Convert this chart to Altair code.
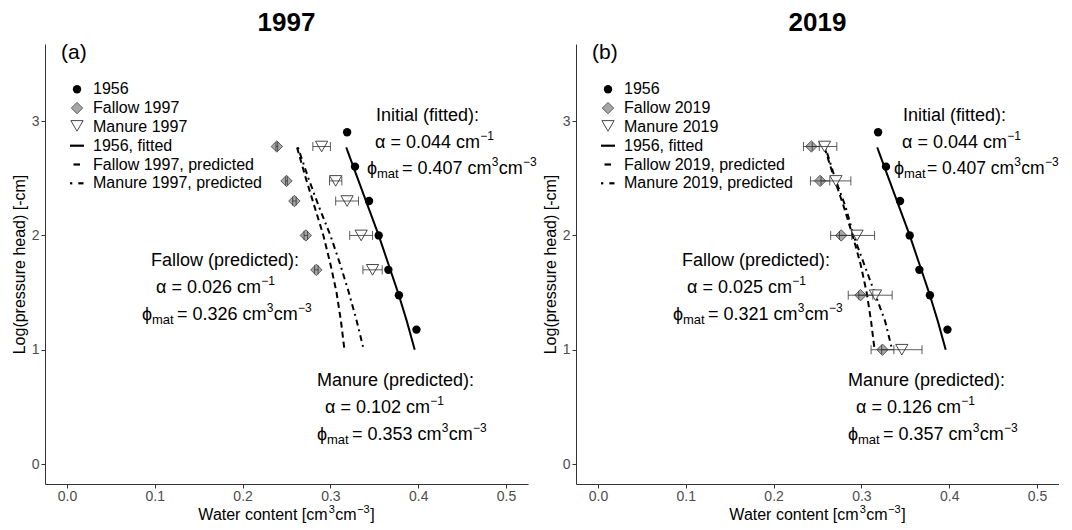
import altair as alt
import pandas as pd

FONT = "Liberation Sans"

# ---------------- data ----------------
h_1956 = [2.903, 2.602, 2.301, 2.0, 1.699, 1.477, 1.176]
theta_1956 = [0.319, 0.328, 0.344, 0.355, 0.366, 0.378, 0.398]

h_1997 = [2.778, 2.477, 2.301, 2.0, 1.699]
theta_fallow_1997 = [0.239, 0.250, 0.259, 0.272, 0.284]
err_fallow_1997 = [0.001, 0.001, 0.002, 0.002, 0.002]
theta_manure_1997 = [0.290, 0.306, 0.319, 0.335, 0.348]
err_manure_1997 = [0.010, 0.007, 0.013, 0.013, 0.011]

h_2019 = [2.778, 2.477, 2.0, 1.477, 1.0]
theta_fallow_2019 = [0.243, 0.253, 0.277, 0.299, 0.324]
err_fallow_2019 = [0.009, 0.011, 0.012, 0.014, 0.013]
theta_manure_2019 = [0.258, 0.271, 0.295, 0.316, 0.346]
err_manure_2019 = [0.014, 0.017, 0.020, 0.019, 0.023]

curve_h = [2.77, 2.5, 2.25, 2.0, 1.75, 1.5, 1.25, 1.0]
fit_1956 = [0.318, 0.331, 0.343, 0.355, 0.366, 0.377, 0.387, 0.396]
pred_fallow_1997 = [0.262, 0.272, 0.282, 0.292, 0.300, 0.307, 0.312, 0.316]
pred_manure_1997 = [0.263, 0.275, 0.287, 0.300, 0.311, 0.321, 0.330, 0.338]
pred_fallow_2019 = [0.258, 0.269, 0.280, 0.290, 0.299, 0.306, 0.311, 0.315]
pred_manure_2019 = [0.259, 0.270, 0.282, 0.291, 0.303, 0.315, 0.327, 0.335]

x_ticks = [0.0, 0.1, 0.2, 0.3, 0.4, 0.5]
y_ticks = [0, 1, 2, 3]

initial_alpha, initial_phi = "0.044", "0.407"
alpha_fallow = {"1997": "0.026", "2019": "0.025"}
phi_fallow = {"1997": "0.326", "2019": "0.321"}
alpha_manure = {"1997": "0.102", "2019": "0.126"}
phi_manure = {"1997": "0.353", "2019": "0.357"}

# ---------------- helpers ----------------
xscale = alt.Scale(domain=[-0.025, 0.525], nice=False, zero=False)
yscale = alt.Scale(domain=[-0.175, 3.675], nice=False, zero=False)
XAX = alt.Axis(values=x_ticks, format=".1f", title=None, labelPadding=1)
YAX = alt.Axis(values=y_ticks, format="d", title="Log(pressure head) [-cm]")

# Arial / Liberation Sans advance widths (em)
W = {"c": 0.5, "m": 0.833, "=": 0.584, ".": 0.278, " ": 0.278, "−": 0.584,
     "α": 0.58, "[": 0.278, "]": 0.278, "W": 0.944, "a": 0.556, "t": 0.278,
     "e": 0.556, "r": 0.333, "o": 0.556, "n": 0.556}

SUP = 12  # superscript font size in annotations


def tw(s, size):
    return sum(W.get(ch, 0.556) for ch in s) * size


def X(field):
    return alt.X(f"{field}:Q", scale=xscale, axis=XAX)


def Y(field):
    return alt.Y(f"{field}:Q", scale=yscale, axis=YAX)


def txt(s, x, y, size, weight="normal"):
    return alt.Chart(pd.DataFrame({"t": [s]})).mark_text(
        align="left", baseline="middle", font=FONT, fontSize=size,
        fontWeight=weight, color="black"
    ).encode(x=alt.value(x), y=alt.value(y), text="t:N")


def runs(parts, x, y):
    """parts: list of (text, size, dy, extra_gap)"""
    out = []
    for s, size, dy, gap in parts:
        x += gap
        out.append(txt(s, x, y + dy, size))
        x += tw(s, size)
    return out


def alpha_line(x, y, value):
    return runs([(f"α = {value} cm", 18, 0, 0), ("−1", SUP, -7, 0.3)], x, y)


def phi_line(x, y, value, size=18, gap=35):
    out = [txt("ϕ", x, y, 18), txt("mat", x + 10, y + 5, 13)]
    out += runs([(f"= {value} cm", size, 0, 0), ("3", SUP, -7, 0.3),
                 ("cm", size, 0, 0.3), ("−3", SUP, -7, 0.3)], x + gap, y)
    return out


def panel(year, letter, h_pts, t_f, e_f, t_m, e_m, pred_f, pred_m,
          init_dx, init_size, init_gap):
    d56 = pd.DataFrame({"theta": theta_1956, "h": h_1956})
    df_f = pd.DataFrame({"theta": t_f, "h": h_pts,
                         "lo": [t - e for t, e in zip(t_f, e_f)],
                         "hi": [t + e for t, e in zip(t_f, e_f)]})
    df_m = pd.DataFrame({"theta": t_m, "h": h_pts,
                         "lo": [t - e for t, e in zip(t_m, e_m)],
                         "hi": [t + e for t, e in zip(t_m, e_m)]})
    curves = pd.DataFrame({"h": curve_h, "fit": fit_1956,
                           "pf": pred_f, "pm": pred_m})

    layers = []
    for col, dash in [("fit", []), ("pf", [6, 4]), ("pm", [2, 4, 6, 4])]:
        kw = dict(color="black", strokeWidth=2)
        if dash:
            kw["strokeDash"] = dash
        layers.append(alt.Chart(curves).mark_line(**kw).encode(
            x=X(col), y=Y("h"), order=alt.Order("h:Q", sort="descending")))
    layers.append(alt.Chart(d56).mark_point(
        shape="circle", filled=True, size=70, color="black", opacity=1
    ).encode(x=X("theta"), y=Y("h")))
    layers.append(alt.Chart(df_f).mark_point(
        shape="diamond", filled=True, size=130, fill="#a6a6a6",
        stroke="#404040", strokeWidth=0.8, opacity=1
    ).encode(x=X("theta"), y=Y("h")))
    layers.append(alt.Chart(df_m).mark_point(
        shape="triangle-down", filled=True, size=150, fill="white",
        stroke="#333333", strokeWidth=0.9, opacity=1
    ).encode(x=X("theta"), y=Y("h")))
    for df in (df_f, df_m):
        layers.append(alt.Chart(df).mark_rule(color="#333333", strokeWidth=0.8)
                      .encode(x=X("lo"), x2="hi:Q", y=Y("h")))
        for end in ("lo", "hi"):
            layers.append(alt.Chart(df).mark_rule(
                color="#333333", strokeWidth=0.8, yOffset=-4.5, y2Offset=4.5
            ).encode(x=X(end), y=Y("h"), y2="h:Q"))

    # panel letter
    layers.append(txt(f"({letter})", 16, 9, 21))

    # legend
    labels = ["1956", f"Fallow {year}", f"Manure {year}", "1956, fitted",
              f"Fallow {year}, predicted", f"Manure {year}, predicted"]
    ly = [45.3 + 18.8 * i for i in range(6)]
    for lab, yy in zip(labels, ly):
        layers.append(txt(lab, 48, yy, 16))
    one = pd.DataFrame({"k": [0]})
    layers.append(alt.Chart(one).mark_point(
        shape="circle", filled=True, size=70, color="black", opacity=1
    ).encode(x=alt.value(32), y=alt.value(ly[0])))
    layers.append(alt.Chart(one).mark_point(
        shape="diamond", filled=True, size=130, fill="#a6a6a6",
        stroke="#404040", strokeWidth=0.8, opacity=1
    ).encode(x=alt.value(32), y=alt.value(ly[1])))
    layers.append(alt.Chart(one).mark_point(
        shape="triangle-down", filled=True, size=150, fill="white",
        stroke="#333333", strokeWidth=0.9, opacity=1
    ).encode(x=alt.value(32), y=alt.value(ly[2] - 1)))
    for (x1, x2), yy in [((25, 39), ly[3]), ((28.5, 35), ly[4]),
                         ((25, 27.3), ly[5]), ((33.3, 38.5), ly[5])]:
        layers.append(alt.Chart(one).mark_rule(
            color="black", strokeWidth=2.2
        ).encode(x=alt.value(x1), x2=alt.value(x2), y=alt.value(yy)))

    # annotations
    layers.append(txt("Initial (fitted):", 331 + init_dx, 72.3, 18))
    layers += alpha_line(330 + init_dx, 99.3, initial_alpha)
    layers += phi_line(322 + init_dx, 125.3, initial_phi, init_size, init_gap)
    layers.append(txt("Fallow (predicted):", 106, 217.3, 18))
    layers += alpha_line(111, 244.3, alpha_fallow[year])
    layers += phi_line(97, 271.3, phi_fallow[year])
    layers.append(txt("Manure (predicted):", 272, 337.3, 18))
    layers += alpha_line(280, 364.3, alpha_manure[year])
    layers += phi_line(272, 391.3, phi_manure[year])

    # x-axis title with real superscripts, centred under the plot
    parts = [("Water content [cm", 16, 0, 0), ("3", 11, -5, 0.5),
             ("cm", 16, 0, 0.5), ("−3", 11, -5, 0.5), ("]", 16, 0, 0.5)]
    total = sum(tw(s, sz) + g for s, sz, _, g in parts)
    layers += runs(parts, 241.5 - total / 2, 471)

    return alt.layer(*layers).properties(
        width=483, height=440,
        title=alt.Title(text=year, font=FONT, fontSize=26, fontWeight="bold",
                        color="black", anchor="middle", offset=6),
    )


left = panel("1997", "a", h_1997, theta_fallow_1997, err_fallow_1997,
             theta_manure_1997, err_manure_1997, pred_fallow_1997,
             pred_manure_1997, 0, 18, 35)
right = panel("2019", "b", h_2019, theta_fallow_2019, err_fallow_2019,
              theta_manure_2019, err_manure_2019, pred_fallow_2019,
              pred_manure_2019, -4, 17.5, 33)

chart = alt.hconcat(left, right, spacing=48, bounds="flush").properties(
    padding={"left": 3, "top": 2, "right": 0, "bottom": 0}
).configure_view(stroke=None).configure_axis(
    grid=False, domainColor="#333333", tickColor="#333333", domainWidth=1,
    tickWidth=1, tickSize=4, labelPadding=2, labelColor="#4d4d4d",
    labelFont=FONT, labelFontSize=14, titleFont=FONT, titleFontSize=16,
    titleFontWeight="normal", titleColor="black", titlePadding=4
)

chart.save("out.html", embed_options={"renderer": "svg", "actions": False})
